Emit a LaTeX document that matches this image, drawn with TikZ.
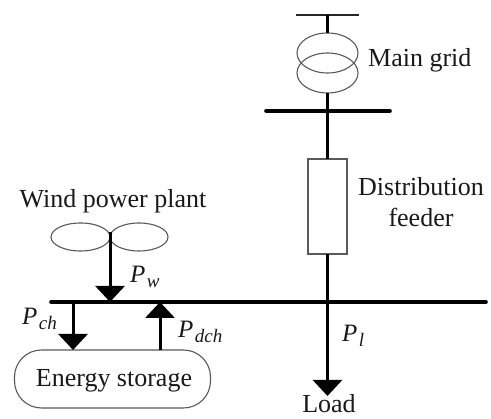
\documentclass[tikz,border=0pt]{standalone}
\usepackage{fontspec}
\setmainfont{Liberation Serif}
\usetikzlibrary{arrows.meta,shapes.geometric}
\newcommand{\powlabel}[1]{\textit{P}\hspace{1.5pt}\raisebox{-5pt}{\fontsize{19}{19}\selectfont\textit{#1}}}
\tikzset{
  x=1pt,y=-1pt,
  txt/.style={font=\fontsize{26}{28}\selectfont,inner sep=0pt,text=black!90},
  pow/.style={font=\fontsize{25}{28}\selectfont,inner sep=0pt,text=black!90},
  thin bus/.style={line width=1.8pt,black!85},
  bus/.style={line width=3.6pt,black,line cap=round},
  wire/.style={line width=3pt,black},
  flow/.style={wire,-{Triangle[width=29pt,length=16pt,sep=0pt]},shorten >=0pt},
  outline/.style={draw=black!65,line width=1.1pt},
  pt/.style={inner sep=0pt,outer sep=0pt,minimum size=0pt},
}
\begin{document}
\begin{tikzpicture}
\useasboundingbox[fill=white] (0,0) rectangle (491,419);
% coordinates on bars
\coordinate (topL) at (296,15);
\coordinate (topR) at (359,15);
\coordinate (topS) at (327.5,15);
\coordinate (midL) at (266,111);
\coordinate (midR) at (390,111);
\coordinate (midS) at (327.5,111);
\coordinate (busL) at (51,302);
\coordinate (busR) at (486,302);
\coordinate (busW) at (110,302);
\coordinate (busC) at (73,302);
\coordinate (busD) at (160,302);
\coordinate (busF) at (327.5,302);
\coordinate (loadTip) at (327.5,396);
\coordinate (storC) at (73,350);
\coordinate (storD) at (160,350);
\coordinate (hub) at (110,232);
% transformer
\node[ellipse,outline,pt,minimum width=61pt,minimum height=40pt] (xu) at (327.5,53) {};
\node[ellipse,outline,pt,minimum width=61pt,minimum height=40pt] (xl) at (327.5,73) {};
% feeder
\node[rectangle,outline,pt,minimum width=39pt,minimum height=95pt] (feeder) at (327.5,206.5) {};
% wind turbine
\node[ellipse,outline,pt,minimum width=59pt,minimum height=28pt] (bladeL) at (80.5,237) {};
\node[ellipse,outline,pt,minimum width=58pt,minimum height=28pt] (bladeR) at (139,237) {};
% storage
\node[rectangle,rounded corners=27pt,outline,pt,minimum width=196pt,minimum height=58pt,txt] (storage) at (112.5,379) {};
\node[txt] (storagetext) at (114,381) {Energy storage};
% bars
\draw[thin bus] (topL) -- (topR);
\draw[bus] (midL) -- (midR);
\draw[bus] (busL) -- (busR);
% connectors
\draw[wire] (topS) -- (xu.north);
\draw[wire] (xl.south) -- (midS);
\draw[wire] (midS) -- (feeder.north);
\draw[wire] (feeder.south) -- (busF);
\draw[flow] (busF) -- (loadTip);
\draw[flow] (hub) -- (busW);
\draw[flow] (busC) -- (storC);
\draw[flow] (storD) -- (busD);
% labels
\node[txt,anchor=west] (lgrid) at (368,60) {Main grid};
\node[txt] (ldist) at (421,187) {Distribution};
\node[txt] (lfeed) at (421,217) {feeder};
\node[txt] (lwind) at (113,201) {Wind power plant};
\node[txt,anchor=base] (lload) at (329,413) {Load};
\node[pow,anchor=west] (pw) at (130,277) {\powlabel{w}};
\node[pow,anchor=west] (pch) at (22,319) {\powlabel{ch}};
\node[pow,anchor=west] (pdch) at (178,332) {\powlabel{dch}};
\node[pow,anchor=west] (pl) at (342,336) {\powlabel{l}};
\end{tikzpicture}
\end{document}
